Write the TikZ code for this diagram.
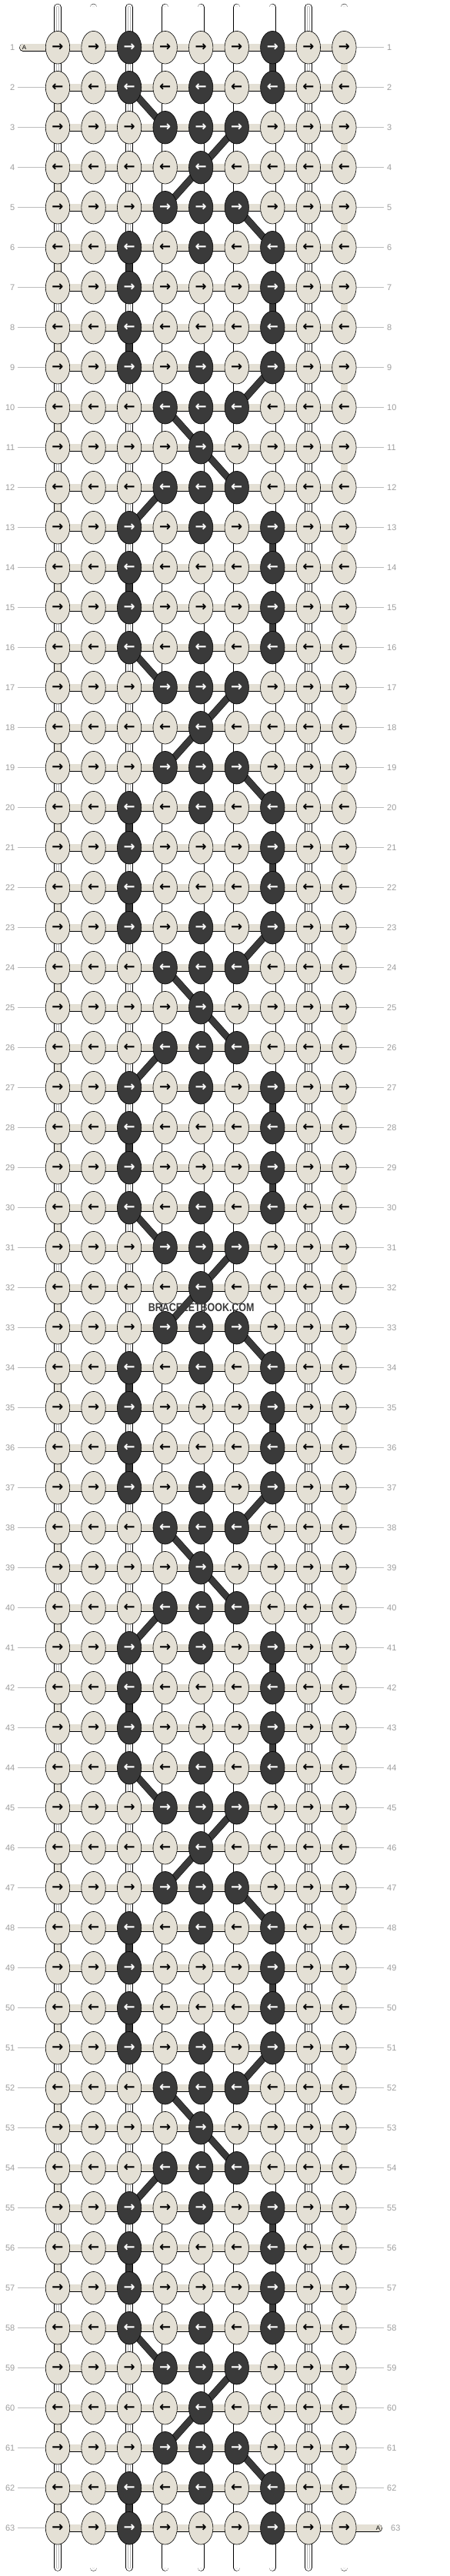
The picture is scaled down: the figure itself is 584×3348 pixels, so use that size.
\documentclass[tikz,border=0pt]{standalone}
\usepackage{fontspec}
\setmainfont{Liberation Sans}
\newfontfamily\arrowfont{DejaVu Sans}[BoldFont={DejaVu Sans Bold}]
\usepackage{xcolor}
\usetikzlibrary{shapes.geometric,backgrounds}

\definecolor{thread}{HTML}{E4E0D5}
\definecolor{knotdark}{HTML}{3A3A3A}
\definecolor{labelgray}{HTML}{9E9E9E}
\definecolor{tickgray}{HTML}{BDBDBD}

\newcommand\rarr{{\arrowfont\bfseries →}}
\newcommand\larr{{\arrowfont\bfseries ←}}

\begin{document}
\begin{tikzpicture}[x=1pt, y=-1pt,
    knot/.style={ellipse, draw, line width=0.6pt, fill=#1, inner sep=0pt,
                 minimum width=31.4pt, minimum height=42.6pt,
                 font=\fontsize{18}{18}\selectfont},
    rowlabel/.style={text=labelgray, inner sep=0pt,
                     font=\fontsize{11}{11}\selectfont},
    tick/.style={draw=tickgray, line width=0.6pt},
    strand/.style={draw=black, line width=0.6pt, double=#1, double distance=8.2pt},
    hlink/.style={draw=black, line width=0.6pt, double=thread, double distance=8.8pt},
    base/.style={strand=white,
                 postaction={draw=gray!55, line width=0.4pt, double=white, double distance=2.6pt}},
    diag/.style={draw=black, line width=0.5pt, double=knotdark, double distance=8pt}]

   \useasboundingbox (0,0) rectangle (584,3348);

   % knots
   \foreach \row in {1,...,63}{
     \foreach \col in {1,...,9}{
       \pgfmathsetmacro\xx{75+(\col-1)*46.55}
       \pgfmathsetmacro\yy{61.7+(\row-1)*52}
       \pgfmathtruncatemacro\rowtype{abs(mod(\row-1,7)-3)}
       \pgfmathtruncatemacro\coldist{abs(\col-5)}
       \pgfmathtruncatemacro\isdark{((\rowtype==3 && \coldist==2) || (\rowtype==2 && (\coldist==2 || \coldist==0)) || (\rowtype==1 && \coldist<=1) || (\rowtype==0 && \coldist==0)) ? 1 : 0}
       \ifnum\isdark=1 \def\kfill{knotdark}\def\ktext{white}\else\def\kfill{thread}\def\ktext{black}\fi
       \node[knot=\kfill, text=\ktext] (k-\row-\col) at (\xx,\yy) {\ifodd\row\rarr\else\larr\fi};
     }
   }

   % row numbers
   \foreach \row in {1,...,63}{
     \pgfmathsetmacro\yy{61.7+(\row-1)*52}
     \node[rowlabel, anchor=east] (lbl-l-\row) at (19.5,\yy) {\row};
     \ifnum\row=63
       \node[rowlabel, anchor=west] (lbl-r-\row) at (508,\yy) {\row};
     \else
       \node[rowlabel, anchor=west] (lbl-r-\row) at (503,\yy) {\row};
     \fi
   }

   \coordinate (a-start) at (30,61.7);
   \coordinate (a-end) at (492,3285.7);
   \node[font=\fontsize{8}{8}\selectfont, inner sep=0pt] (a-in) at (31.5,61.7) {A};
   \node[font=\fontsize{8}{8}\selectfont, inner sep=0pt] (a-out) at (491.5,3285.7) {A};

   \begin{pgfonlayer}{background}
     \fill[white] (0,0) rectangle (584,3348);

     % ticks to the row numbers
     \foreach \row in {1,...,63}{
       \pgfmathsetmacro\yy{61.7+(\row-1)*52}
       \coordinate (tl-\row) at (23.3,\yy);
       \coordinate (tr-\row) at (499,\yy);
       \ifnum\row>1 \draw[tick] (tl-\row) -- (k-\row-1.west); \fi
       \ifnum\row<63 \draw[tick] (k-\row-9.east) -- (tr-\row); \fi
     }

     % working thread in and out
     \draw[hlink, line cap=round] (a-start) -- (k-1-1.center);
     \draw[hlink, line cap=round] (k-63-9.center) -- (a-end);

     % base strands, top and bottom
     \foreach \col in {1,...,9}{
       \pgfmathsetmacro\xx{75+(\col-1)*46.55}
       \coordinate (top-\col) at (\xx,9.5);
       \coordinate (bot-\col) at (\xx,3337);
       \draw[base, line cap=round] (top-\col) -- (k-1-\col.center);
       \draw[base, line cap=round] (k-63-\col.center) -- (bot-\col);
     }

     % links along a row
     \foreach \row in {1,...,63}{
       \foreach \col in {1,...,8}{
         \pgfmathtruncatemacro\coln{\col+1}
         \draw[hlink] (k-\row-\col.center) -- (k-\row-\coln.center);
       }
     }

     % links between rows
     \foreach \row in {1,...,62}{
       \foreach \col in {1,...,9}{
         \pgfmathtruncatemacro\rown{\row+1}
         \pgfmathtruncatemacro\rel{mod(\row-1,14)+1}
         \pgfmathtruncatemacro\kind{((\col==3 && (\rel==6 || \rel==8 || \rel==14)) || (\col==7 && (\rel==1 || \rel==7 || \rel==13))) ? 2 : (((\col==9 && mod(\row,2)==1) || (\col==1 && mod(\row,2)==0)) ? 1 : 0)}
         \ifcase\kind
           \draw[base] (k-\row-\col.center) -- (k-\rown-\col.center);
         \or
           \draw[strand=thread] (k-\row-\col.center) -- (k-\rown-\col.center);
         \or
           \draw[strand=knotdark] (k-\row-\col.center) -- (k-\rown-\col.center);
         \fi
       }
     }

     % dark diagonals
     \foreach \b in {0,14,28,42,56}{
       \pgfmathtruncatemacro\ra{\b+2}
       \pgfmathtruncatemacro\rb{\b+3}
       \pgfmathtruncatemacro\rc{\b+4}
       \pgfmathtruncatemacro\rd{\b+5}
       \pgfmathtruncatemacro\re{\b+6}
       \draw[diag] (k-\ra-3.center) -- (k-\rb-4.center);
       \draw[diag] (k-\rb-6.center) -- (k-\rc-5.center) -- (k-\rd-4.center);
       \draw[diag] (k-\rd-6.center) -- (k-\re-7.center);
     }
     \foreach \b in {0,14,28,42}{
       \pgfmathtruncatemacro\ra{\b+9}
       \pgfmathtruncatemacro\rb{\b+10}
       \pgfmathtruncatemacro\rc{\b+11}
       \pgfmathtruncatemacro\rd{\b+12}
       \pgfmathtruncatemacro\re{\b+13}
       \draw[diag] (k-\ra-7.center) -- (k-\rb-6.center);
       \draw[diag] (k-\rb-4.center) -- (k-\rc-5.center) -- (k-\rd-6.center);
       \draw[diag] (k-\rd-4.center) -- (k-\re-3.center);
     }
   \end{pgfonlayer}

   \node[font=\bfseries\fontsize{15}{15}\selectfont, text=knotdark, xscale=0.83] (mark) at (261.7,1699.5) {BRACELETBOOK.COM};

\end{tikzpicture}
\end{document}
